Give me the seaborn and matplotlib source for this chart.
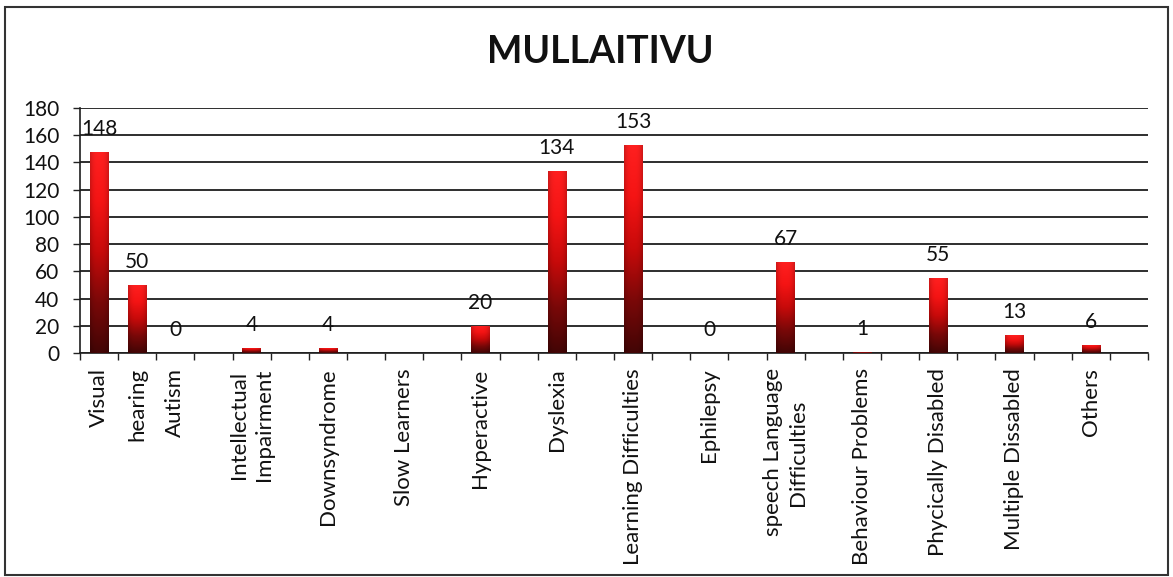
import numpy as np
import pandas as pd
import matplotlib
matplotlib.use("Agg")
import matplotlib.pyplot as plt
from matplotlib.colors import LinearSegmentedColormap
from matplotlib.patches import Rectangle
import seaborn as sns

# Worksheet columns in order; None marks an empty spacer column
columns = [
    "Visual", "hearing", "Autism", None,
    "Intellectual\nImpairment", None, "Downsyndrome", None,
    "Slow Learners", None, "Hyperactive", None, "Dyslexia", None,
    "Learning Difficulties", None, "Ephilepsy", None,
    "speech Language\nDifficulties", None, "Behaviour Problems", None,
    "Phycically Disabled", None, "Multiple Dissabled", None, "Others", None,
]

# Number of students per category (Slow Learners has no entry)
categories = [
    "Visual", "hearing", "Autism", "Intellectual\nImpairment", "Downsyndrome",
    "Slow Learners", "Hyperactive", "Dyslexia", "Learning Difficulties",
    "Ephilepsy", "speech Language\nDifficulties", "Behaviour Problems",
    "Phycically Disabled", "Multiple Dissabled", "Others",
]
counts = [148, 50, 0, 4, 4, np.nan, 20, 134, 153, 0, 67, 1, 55, 13, 6]

y_ticks = [0, 20, 40, 60, 80, 100, 120, 140, 160, 180]
title = "MULLAITIVU"

sns.set_theme(style="white")
plt.rcParams["font.family"] = ["Lato", "DejaVu Sans"]

W, H = 1173, 577
fig = plt.figure(figsize=(W / 100, H / 100), dpi=100)
ax = fig.add_axes([80 / W, 1 - 353 / H, (1148 - 80) / W, (353 - 108) / H])

slot_keys = [c if c is not None else f"_gap{i}" for i, c in enumerate(columns)]
df = pd.DataFrame({"category": categories, "count": counts}).dropna()

sns.barplot(data=df, x="category", y="count", order=slot_keys,
            width=0.48, color="#e00000", linewidth=0, ax=ax, zorder=3)

# Red-to-maroon shading on every bar
cmap = LinearSegmentedColormap.from_list(
    "bar", ["#420505", "#7a0808", "#c80a0a", "#f51414", "#ff2020"])
grad_v = np.linspace(0, 1, 256)[:, None]
xs = np.linspace(-1, 1, 64)[None, :]
shade = 1 - 0.2 * np.abs(xs) ** 3
for p in ax.patches:
    x0, y0 = p.get_x(), p.get_y()
    w, h = p.get_width(), p.get_height()
    if h <= 0:
        continue
    rgba = cmap(grad_v * np.ones_like(xs))
    rgba[..., :3] *= shade[..., None]
    p.set_facecolor("none")
    im = ax.imshow(rgba, extent=[x0, x0 + w, y0, y0 + h], origin="lower",
                   aspect="auto", zorder=3, interpolation="bilinear")
    im.set_clip_path(p)

# Value labels above the bars
for c, v in zip(categories, counts):
    if np.isnan(v):
        continue
    ax.annotate(f"{int(v)}", (slot_keys.index(c), v), xytext=(0, 16.5),
                textcoords="offset points", ha="center", va="center",
                fontsize=15, color="#111111", zorder=5)

ax.set_xlim(-0.5, len(slot_keys) - 0.5)
ax.set_ylim(0, 180)
ax.set_yticks(y_ticks)
ax.set_yticklabels([str(t) for t in y_ticks], fontsize=15, color="#111111")
ax.tick_params(axis="y", length=5, width=1, color="#222222", pad=10, direction="out", left=True)

ax.set_xticks(range(len(slot_keys)))
ax.set_xticklabels([c if c is not None else "" for c in columns],
                   rotation=90, fontsize=16, color="#111111",
                   va="top", ha="center", multialignment="center",
                   linespacing=1.35)
ax.tick_params(axis="x", which="major", length=0, pad=11)
ax.set_xticks(np.arange(-0.5, len(slot_keys), 1), minor=True)
ax.tick_params(axis="x", which="minor", length=5, width=1, color="#222222",
               direction="out", bottom=True)

ax.yaxis.grid(True, color="#1e1e1e", linewidth=1.3, zorder=0)
ax.set_axisbelow(True)
ax.set_xlabel("")
ax.set_ylabel("")
for s in ["top", "right"]:
    ax.spines[s].set_visible(False)
for s in ["left", "bottom"]:
    ax.spines[s].set_color("#1e1e1e")
    ax.spines[s].set_linewidth(1.2)

fig.text(600 / W, 1 - 52 / H, title, ha="center", va="center",
         fontsize=27, fontweight="bold", color="#111111")

fig.patches.append(Rectangle((5 / W, 2 / H), (1168 - 5) / W, (575 - 7) / H,
                             transform=fig.transFigure, fill=False,
                             edgecolor="#333333", linewidth=1.5))

fig.savefig("out.png", dpi=100, facecolor="white")
